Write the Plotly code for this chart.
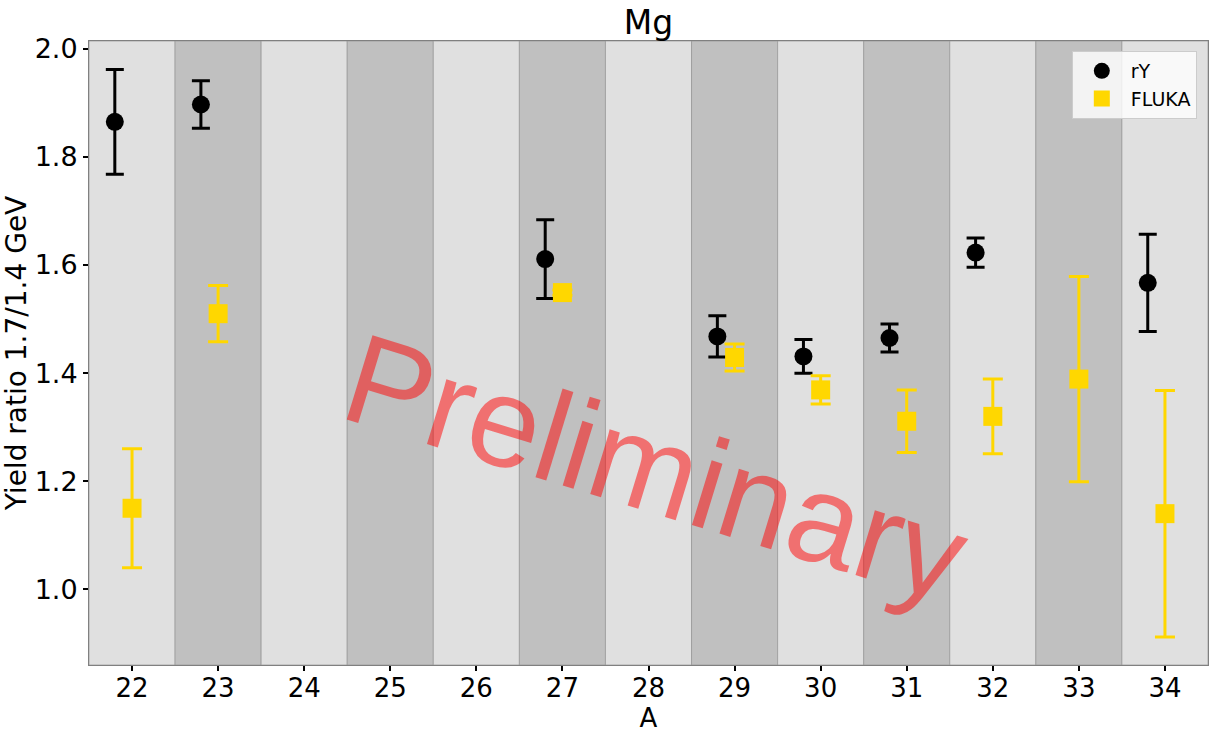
import plotly.graph_objects as go

# ---- data ----
A_ticks = list(range(22, 35))
rY_A = [22, 23, 27, 29, 30, 31, 32, 34]
rY_val = [1.865, 1.897, 1.611, 1.468, 1.431, 1.465, 1.623, 1.567]
rY_err = [0.097, 0.044, 0.073, 0.038, 0.031, 0.026, 0.027, 0.090]
FLUKA_A = [22, 23, 27, 29, 30, 31, 32, 33, 34]
FLUKA_val = [1.150, 1.510, 1.549, 1.429, 1.369, 1.311, 1.320, 1.389, 1.140]
FLUKA_err = [0.110, 0.052, 0.005, 0.025, 0.026, 0.058, 0.069, 0.190, 0.228]
y_ticks = [1.0, 1.2, 1.4, 1.6, 1.8, 2.0]
rY_shift = -0.2

FONT = "DejaVu Sans"

fig = go.Figure()

# background bands
shapes = []
for i, a in enumerate(A_ticks):
    shapes.append(dict(type="rect", xref="x", yref="paper", x0=a - 0.5, x1=a + 0.5,
                       y0=0, y1=1, layer="below",
                       fillcolor="#e0e0e0" if i % 2 == 0 else "#c0c0c0",
                       line=dict(color="rgba(150,150,150,0.7)", width=1)))

fig.add_trace(go.Scatter(
    x=[a + rY_shift for a in rY_A], y=rY_val, mode="markers", name="rY",
    marker=dict(symbol="circle", size=18, color="black"),
    error_y=dict(type="data", array=rY_err, visible=True, color="black",
                 thickness=3, width=9)))
fig.add_trace(go.Scatter(
    x=FLUKA_A, y=FLUKA_val, mode="markers", name="FLUKA",
    marker=dict(symbol="square", size=19, color="#FFD700"),
    error_y=dict(type="data", array=FLUKA_err, visible=True, color="#FFD700",
                 thickness=3, width=10)))

fig.update_layout(
    width=1209, height=735,
    margin=dict(l=89, r=1, t=41, b=70),
    paper_bgcolor="white", plot_bgcolor="white",
    shapes=shapes,
    font=dict(family=FONT, color="black"),
    title=dict(text="Mg", x=0.5, xref="paper", xanchor="center",
               y=1 - 22 / 735, yref="container", yanchor="middle",
               font=dict(size=33, family=FONT, color="black")),
    legend=dict(x=0.99, xanchor="right", y=0.984, yanchor="top",
                bgcolor="rgba(255,255,255,0.8)", bordercolor="#cccccc",
                borderwidth=1, font=dict(size=19, family=FONT),
                itemwidth=48, tracegroupgap=6),
    xaxis=dict(range=[21.5, 34.5], tickvals=A_ticks, ticktext=[str(a) for a in A_ticks],
               showgrid=False, zeroline=False, ticks="outside", ticklen=5, tickwidth=2,
               tickcolor="black", showline=True, mirror=True, linecolor="#808080",
               linewidth=1, tickfont=dict(size=26, family=FONT),
               title=dict(text="A", font=dict(size=26, family=FONT), standoff=1)),
    yaxis=dict(range=[0.86, 2.0145], tickvals=y_ticks, tickformat=".1f",
               showgrid=False, zeroline=False, ticks="outside", ticklen=5, tickwidth=2,
               tickcolor="black", showline=True, mirror=True, linecolor="#808080",
               linewidth=1, tickfont=dict(size=27, family=FONT),
               title=dict(text="Yield ratio 1.7/1.4 GeV", font=dict(size=28, family=FONT),
                          standoff=4)),
    annotations=[dict(text="Preliminary", x=28.085, y=1.226, xref="x", yref="y",
                      showarrow=False, textangle=17,
                      font=dict(family="Liberation Sans", size=128,
                                color="rgba(255,0,0,0.5)"))],
)

try:
    fig.update_xaxes(ticklabelstandoff=-5)
except Exception:
    pass

fig.write_html("out.html")
